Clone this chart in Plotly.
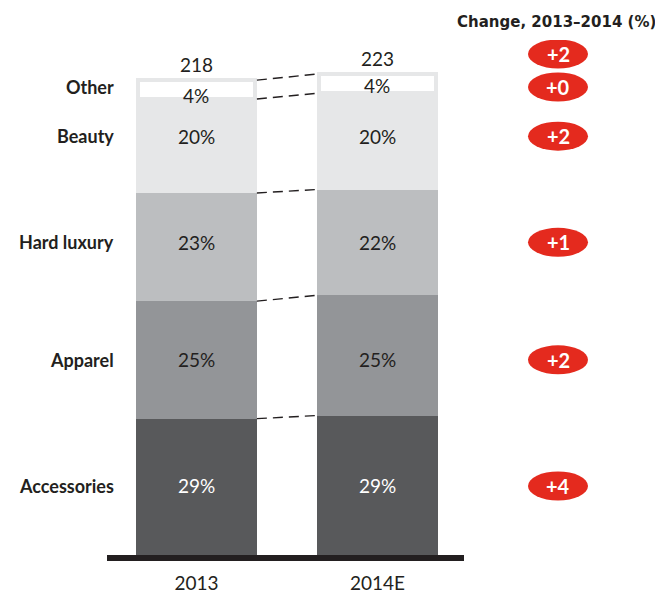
import plotly.graph_objects as go

# data
years = ["2013", "2014E"]
totals = [218, 223]
categories = ["Accessories", "Apparel", "Hard luxury", "Beauty", "Other"]
share_2013 = [29, 25, 23, 20, 4]
share_2014 = [29, 25, 22, 20, 4]
change = ["+4", "+2", "+1", "+2", "+0"]
total_change = "+2"

colors = ["#58595b", "#939598", "#bcbec0", "#e6e7e8", "#ffffff"]
text_colors = ["#ffffff", "#231f20", "#231f20", "#231f20", "#231f20"]
dark = "#231f20"
red = "#e42a1e"

# row positions (y, data units) for labels and change bubbles
row_y = [32.0, 90.5, 145.0, 194.2, 217.0]
total_row_y = 232.3

bar_x = [0, 1]
bar_w = 0.668
px_per_x = 181  # pixels per x unit

shares = [share_2013, share_2014]
values = [[totals[j] * shares[j][i] / 100 for j in range(2)] for i in range(len(categories))]

fig = go.Figure()

for i, cat in enumerate(categories):
    line = dict(width=0)
    w = bar_w
    if cat == "Other":
        # white box with light grey outline, kept inside the bar width
        line = dict(width=4, color="#e6e7e8")
        w = bar_w - 4 / px_per_x
    fig.add_trace(go.Bar(x=bar_x, y=values[i], width=w, name=cat,
                         marker=dict(color=colors[i], line=line),
                         hoverinfo="skip", showlegend=False))

# dashed connectors between bars at each boundary
cum = [[0, 0]]
for i in range(len(categories)):
    cum.append([cum[-1][j] + values[i][j] for j in range(2)])
for k in range(1, len(cum)):
    fig.add_trace(go.Scatter(x=[bar_x[0] + bar_w / 2, bar_x[1] - bar_w / 2], y=cum[k],
                             mode="lines", line=dict(color=dark, width=1.4, dash="10px,6px"),
                             hoverinfo="skip", showlegend=False))

font_reg = "Lato, sans-serif"

# percentage labels inside bars
for i, cat in enumerate(categories):
    for j in range(2):
        y = row_y[i]
        if cat == "Other":
            y = [213.0, 217.5][j]
        fig.add_annotation(x=bar_x[j], y=y, text=f"{shares[j][i]}%", showarrow=False,
                           font=dict(family=font_reg, size=19, color=text_colors[i]))

# totals above bars
for j in range(2):
    fig.add_annotation(x=bar_x[j], y=cum[-1][j], text=str(totals[j]), showarrow=False,
                       yanchor="bottom", yshift=2,
                       font=dict(family=font_reg, size=19, color=dark))

# category labels
for i, cat in enumerate(categories):
    fig.add_annotation(xref="paper", x=0.025, y=row_y[i], text=f"<b>{cat}</b>", showarrow=False,
                       xanchor="right", yanchor="middle",
                       font=dict(family=font_reg, size=18, color=dark))

# change bubbles
bx = (558 - 107) / 357
for y, txt in zip([total_row_y] + row_y[::-1], [total_change] + change[::-1]):
    fig.add_shape(type="circle", xref="paper", yref="y", xsizemode="pixel", ysizemode="pixel",
                  xanchor=bx, yanchor=y, x0=-30, x1=30, y0=-14.5, y1=14.5,
                  fillcolor=red, line=dict(width=0))
    fig.add_annotation(xref="paper", x=bx, y=y, text=f"<b>{txt}</b>", showarrow=False,
                       xanchor="center", yanchor="middle",
                       font=dict(family="Lato, sans-serif", size=20, color="white"))

fig.add_annotation(xref="paper", yref="paper", x=(658 - 107) / 357, y=1 + 18 / 515,
                   text="<b>Change, 2013–2014 (%)</b>", showarrow=False,
                   xanchor="right", yanchor="middle",
                   font=dict(family="DejaVu Sans, sans-serif", size=15, color=dark))

# page body adds an 8px offset, so the figure is drawn 8px smaller
fig.update_layout(
    width=655, height=590,
    margin=dict(l=99, r=199, t=32, b=43),
    barmode="stack",
    plot_bgcolor="white", paper_bgcolor="white",
    xaxis=dict(range=[-0.494, 1.478], tickvals=bar_x, ticktext=years, showgrid=False,
               zeroline=False, showline=True, linewidth=6, linecolor=dark, ticks="",
               ticklabelstandoff=6, automargin=False,
               tickfont=dict(family=font_reg, size=19, color=dark)),
    yaxis=dict(range=[0, 238.8], visible=False, showgrid=False, zeroline=False,
               automargin=False),
)

fig.write_html("out.html")
